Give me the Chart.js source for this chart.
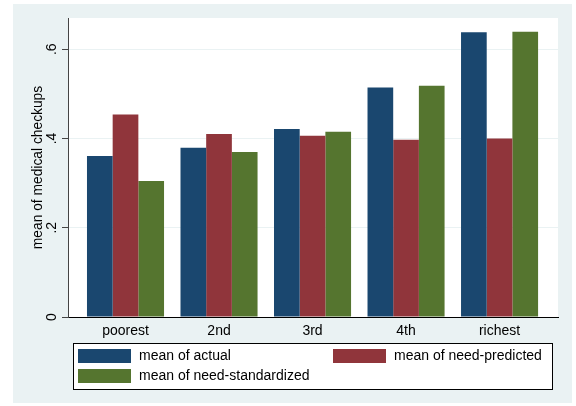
<!DOCTYPE html>
<html>
<head>
<meta charset="utf-8">
<script src="https://cdn.jsdelivr.net/npm/chart.js@4/dist/chart.umd.min.js"></script>
<style>
  html, body { margin: 0; padding: 0; background: #fff; }
  #checkups { display: block; }
</style>
</head>
<body>
<canvas id="checkups" width="576" height="406"></canvas>
<script>
/*global Chart*/

// income quintiles and the three means for each
const quintiles = ["poorest", "2nd", "3rd", "4th", "richest"];
const meanActual = [0.361, 0.379, 0.421, 0.514, 0.638];
const meanNeedPredicted = [0.454, 0.410, 0.406, 0.397, 0.400];
const meanNeedStandardized = [0.305, 0.370, 0.415, 0.518, 0.639];

const yTickValues = [0, 0.2, 0.4, 0.6];
const yTickLabels = ["0", ".2", ".4", ".6"];

const seriesNames = ["mean of actual", "mean of need-predicted", "mean of need-standardized"];
const seriesColors = ["#1a476f", "#90353b", "#55752f"];

const FONT = "'Liberation Sans', Arial, Helvetica, sans-serif";

function points(values) {
  return values.map((v, i) => ({ x: i, y: v }));
}

// light panel behind everything, white plot region on top of it
const panelBackground = {
  id: "panelBackground",
  beforeDraw(chart) {
    const { ctx, chartArea } = chart;
    ctx.save();
    ctx.fillStyle = "#ffffff";
    ctx.fillRect(0, 0, chart.width, chart.height);
    ctx.fillStyle = "#eaf2f3";
    ctx.fillRect(13, 4, 559, 399);
    ctx.fillStyle = "#ffffff";
    ctx.fillRect(chartArea.left, chartArea.top, chartArea.right - chartArea.left, chartArea.bottom - chartArea.top);
    ctx.restore();
  },
};

// two-column boxed legend under the axis
const boxedLegend = {
  id: "boxedLegend",
  afterDraw(chart) {
    const { ctx } = chart;
    const box = { left: 73, top: 343, right: 552, bottom: 389 };
    const cols = [78, 333];
    const rows = [349, 369];
    const slots = [[0, 0], [1, 0], [0, 1]];
    ctx.save();
    ctx.fillStyle = "#ffffff";
    ctx.fillRect(box.left, box.top, box.right - box.left, box.bottom - box.top);
    ctx.strokeStyle = "#000000";
    ctx.lineWidth = 1;
    ctx.strokeRect(box.left + 0.5, box.top + 0.5, box.right - box.left, box.bottom - box.top);
    ctx.font = "14px " + FONT;
    ctx.textBaseline = "middle";
    ctx.textAlign = "left";
    chart.data.datasets.forEach((ds, i) => {
      const [c, r] = slots[i];
      const x = cols[c];
      const y = rows[r];
      ctx.fillStyle = ds.backgroundColor;
      ctx.fillRect(x, y, 53, 14);
      ctx.fillStyle = "#000000";
      ctx.fillText(ds.label, x + 61, y + 7.5);
    });
    ctx.restore();
  },
};

const ctx = document.getElementById("checkups").getContext("2d");

new Chart(ctx, {
  type: "bar",
  plugins: [panelBackground, boxedLegend],
  data: {
    datasets: [meanActual, meanNeedPredicted, meanNeedStandardized].map((values, i) => ({
      label: seriesNames[i],
      data: points(values),
      backgroundColor: seriesColors[i],
      borderWidth: 0,
      categoryPercentage: 0.824,
      barPercentage: 1.0,
    })),
  },
  options: {
    responsive: false,
    animation: false,
    layout: {
      padding: { left: 0, right: 18, top: 18, bottom: 0 },
    },
    scales: {
      x: {
        type: "linear",
        offset: false,
        min: -0.615,
        max: 4.625,
        afterBuildTicks: (scale) => {
          scale.ticks = quintiles.map((_, i) => ({ value: i }));
        },
        afterFit: (scale) => {
          scale.height = 89;
        },
        grid: { display: false, drawTicks: false },
        border: { color: "#000000", width: 1 },
        ticks: {
          color: "#000000",
          padding: 6,
          font: { family: FONT, size: 14 },
          callback: (v) => quintiles[v],
        },
      },
      y: {
        min: 0,
        max: 0.67,
        afterBuildTicks: (scale) => {
          scale.ticks = yTickValues.map((v) => ({ value: v }));
        },
        afterFit: (scale) => {
          scale.width = 68;
        },
        grid: {
          color: "#eaf2f3",
          lineWidth: 1,
          tickColor: "#444444",
          tickLength: 6,
        },
        border: { color: "#444444", width: 1 },
        ticks: {
          color: "#000000",
          minRotation: 90,
          maxRotation: 90,
          crossAlign: "center",
          padding: 4,
          font: { family: FONT, size: 14 },
          callback: (v, i) => yTickLabels[i],
        },
        title: {
          display: true,
          text: "mean of medical checkups",
          color: "#000000",
          font: { family: FONT, size: 13.8 },
          padding: { top: 30, bottom: 0 },
        },
      },
    },
    plugins: {
      legend: { display: false },
      tooltip: { enabled: false },
    },
  },
});
</script>
</body>
</html>
